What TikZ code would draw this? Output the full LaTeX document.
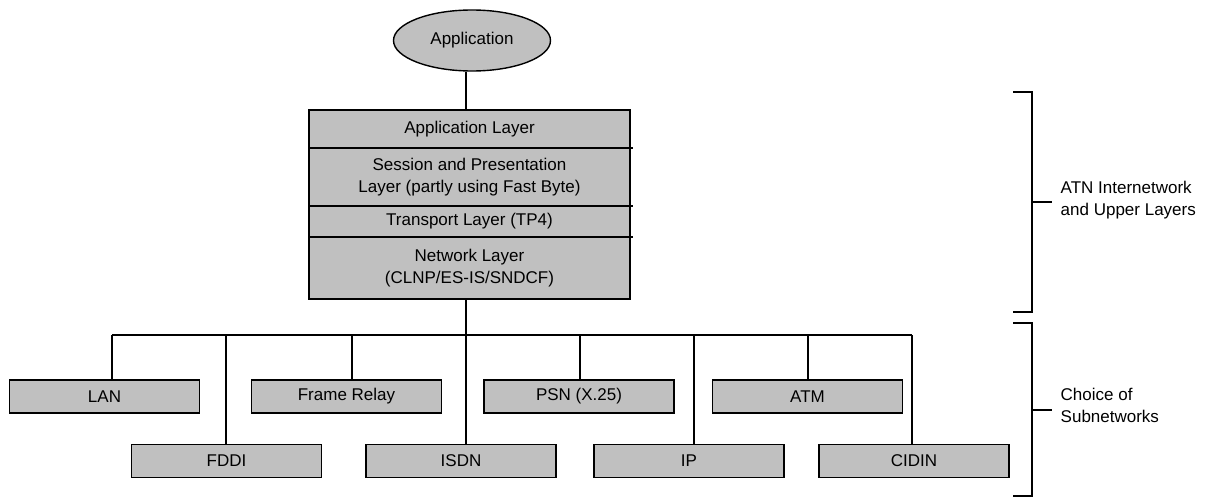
\documentclass[tikz,border=0pt]{standalone}
\usepackage{fontspec}
\setmainfont{Liberation Sans}
\usetikzlibrary{positioning,shapes.geometric}
\definecolor{boxgray}{RGB}{192,192,192}
\tikzset{
  stackrow/.style={draw, fill=boxgray, minimum width=321pt, inner sep=0pt, outer sep=0pt, align=center},
  subnet/.style={draw, fill=boxgray, minimum width=190pt, minimum height=33pt, inner sep=0pt, outer sep=0pt},
  bracketline/.style={line width=1.4pt},
  sidenote/.style={align=left, anchor=west, inner sep=0pt}
}
\begin{document}
\begin{tikzpicture}[x=1pt, y=-1pt, line width=1.4pt, font=\fontsize{17}{22}\selectfont]
\useasboundingbox (0,0) rectangle (1214,497);

% application on top
\node[draw, ellipse, fill=boxgray, minimum width=157pt, minimum height=61pt, inner sep=0pt] (app) at (472,40.5) {Application};

% protocol stack
\node[stackrow, minimum height=38pt] (applayer) at (469.5,129) {Application Layer};
\node[stackrow, minimum height=58pt, below=0pt of applayer] (sesslayer) {Session and Presentation\\Layer (partly using Fast Byte)};
\node[stackrow, minimum height=31pt, below=0pt of sesslayer] (translayer) {Transport Layer (TP4)};
\node[stackrow, minimum height=62pt, below=0pt of translayer] (netlayer) {Network Layer\\(CLNP/ES-IS/SNDCF)};
\foreach \n in {applayer,sesslayer,translayer} {\draw (\n.south east) -- ++(3,0);}

% subnetworks
\node[subnet] (lan) at (104.5,396.5) {LAN};
\node[subnet] (frame) at (346.5,396.5) {Frame Relay};
\node[subnet] (psn) at (579,396.5) {PSN (X.25)};
\node[subnet] (atm) at (807.5,396.5) {ATM};
\node[subnet] (fddi) at (226.5,461) {FDDI};
\node[subnet] (isdn) at (461,461) {ISDN};
\node[subnet] (ip) at (689,461) {IP};
\node[subnet] (cidin) at (914,461) {CIDIN};

% bus and taps
\foreach \n/\x in {lan/112, fddi/226, frame/352, isdn/466, psn/580, ip/694, atm/808, cidin/912} {
  \coordinate (tap-\n) at (\x,335);
  \draw (tap-\n) -- (tap-\n |- \n.north);
}
\draw (tap-lan) -- (tap-cidin);
\draw (tap-isdn |- app.south) -- (tap-isdn |- applayer.north);
\draw (tap-isdn |- netlayer.south) -- (tap-isdn);

% brackets on the right
\draw[bracketline] (1013,92) -- (1032,92) -- (1032,312) -- (1013,312);
\draw[bracketline] (1032,202) -- (1052,202);
\node[sidenote] (upper) at (1060,200) {ATN Internetwork\\and Upper Layers};

\draw[bracketline] (1013,323) -- (1032,323) -- (1032,496) -- (1013,496);
\draw[bracketline] (1032,410) -- (1052,410);
\node[sidenote] (lower) at (1060,405) {Choice of\\Subnetworks};

\end{tikzpicture}
\end{document}
